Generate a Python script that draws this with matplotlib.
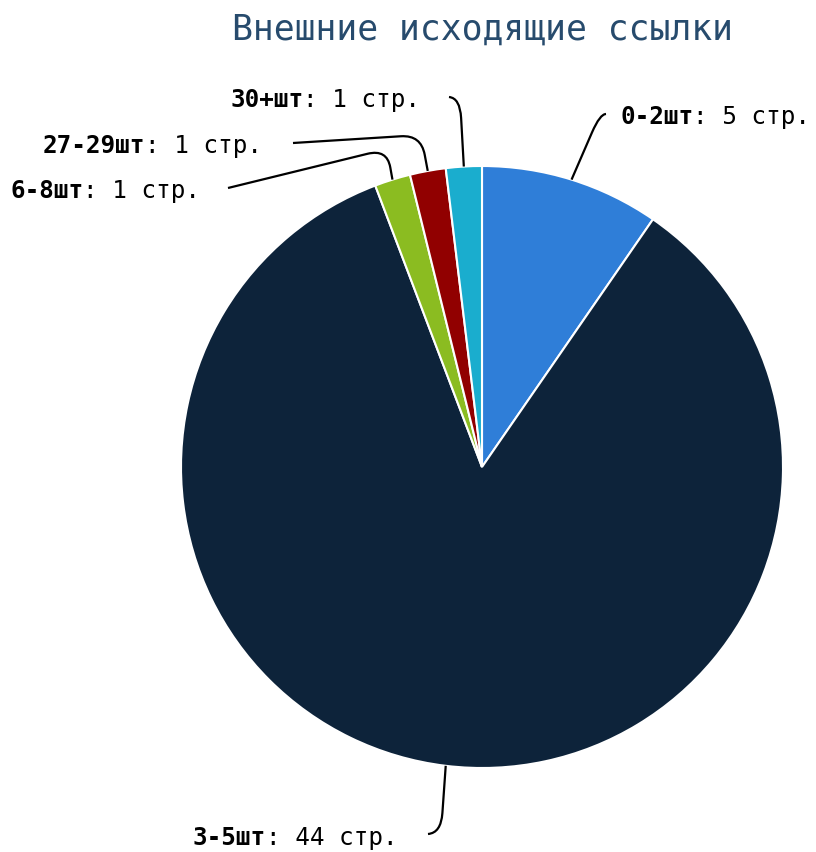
import numpy as np
import matplotlib.pyplot as plt
from matplotlib.path import Path
from matplotlib.patches import PathPatch

# data
names = ["0-2шт", "3-5шт", "6-8шт", "27-29шт", "30+шт"]
pages = [5, 44, 1, 1, 1]
colors = ["#2f7ed8", "#0d233a", "#8bbc21", "#910000", "#1aadce"]
title = "Внешние исходящие ссылки"

# layout (pixels)
cx, cy, r = 482, 467, 301
fs = 17.5
mono = "DejaVu Sans Mono"
# label text left/baseline, connector corner, connector end
label_pos = [(620, 124), (193, 845), (10, 198), (43, 153), (230, 107)]
corners = [(600, 114), (441, 833), (387, 149), (421, 135), (460, 98)]
ends = [(606, 114), (428, 834), (228, 188), (293, 143), (449, 97)]

fig = plt.figure(figsize=(8.16, 8.52), dpi=100)
ax = fig.add_axes([0, 0, 1, 1])

ax.pie(pages, colors=colors, center=(cx, cy), radius=r, startangle=-90,
       counterclock=True, wedgeprops=dict(edgecolor="white", linewidth=1.5))
ax.set_xlim(0, 816)
ax.set_ylim(852, 0)
ax.set_aspect("equal")
ax.axis("off")

advance = 0.6021 * fs * 100 / 72
total = sum(pages)
cum = 0
for name, val, (tx, ty), corner, end in zip(names, pages, label_pos, corners, ends):
    mid = (cum + val / 2) / total * 360 - 90
    cum += val
    p0 = np.array([cx + r * np.cos(np.radians(mid)), cy + r * np.sin(np.radians(mid))])
    c = np.array(corner, float)
    e = np.array(end, float)
    d1 = (c - p0) / np.linalg.norm(c - p0)
    d2 = (e - c) / np.linalg.norm(e - c)
    rad1 = min(20, np.linalg.norm(c - p0) * 0.6)
    rad2 = min(20, np.linalg.norm(e - c))
    a = c - d1 * rad1
    b = c + d2 * rad2
    path = Path([p0, a, c, b, e],
                [Path.MOVETO, Path.LINETO, Path.CURVE3, Path.CURVE3, Path.LINETO])
    ax.add_patch(PathPatch(path, fill=False, edgecolor="black", lw=1.6))
    ax.text(tx, ty, name, family=mono, fontsize=fs, fontweight="bold",
            ha="left", va="baseline", color="black")
    ax.text(tx + len(name) * advance, ty, f": {val} стр.", family=mono,
            fontsize=fs, ha="left", va="baseline", color="black")

ax.text(482, 40, title, family=mono, fontsize=25, color="#274b6d",
        ha="center", va="baseline")

fig.savefig("out.png", dpi=100)
